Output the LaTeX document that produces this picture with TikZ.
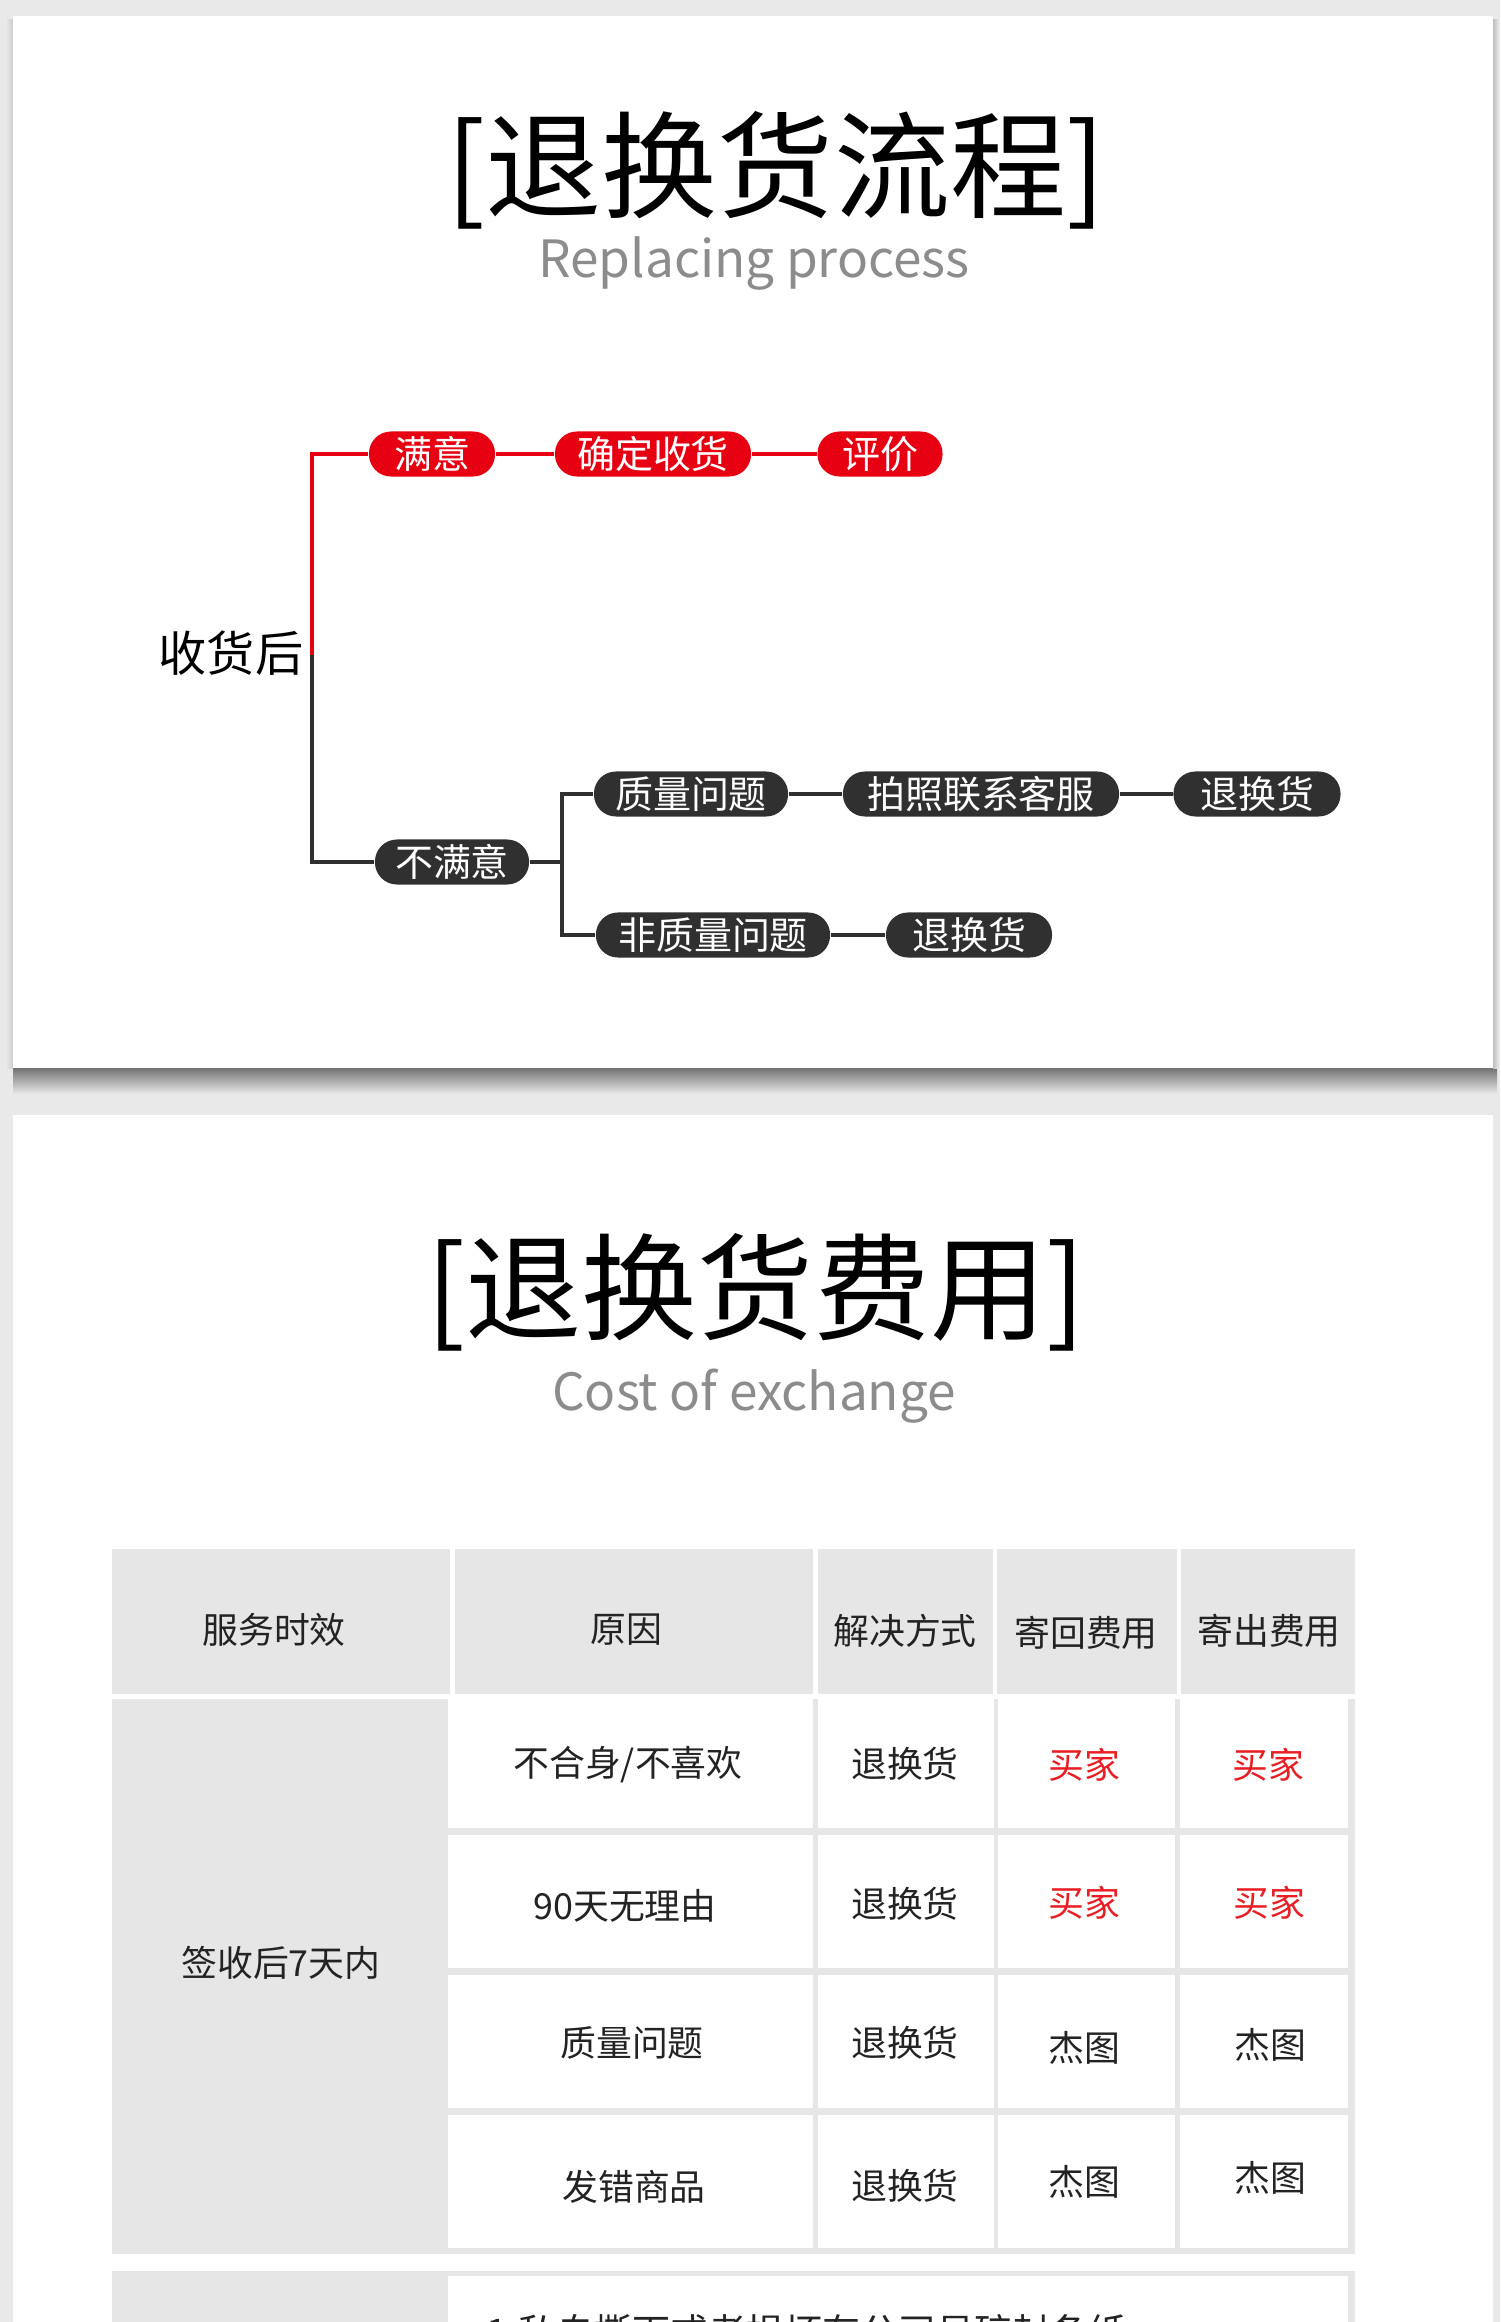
\documentclass[tikz,border=0pt]{standalone}
\usepackage{fontspec}
\setmainfont{Noto Sans CJK SC}
\definecolor{bggray}{RGB}{233,233,233}
\definecolor{cellgray}{RGB}{230,230,230}
\definecolor{mmred}{RGB}{230,0,18}
\definecolor{pilldark}{RGB}{48,48,48}
\definecolor{subgray}{RGB}{140,140,140}
\definecolor{textdark}{RGB}{35,35,35}
\definecolor{buyred}{RGB}{232,30,36}
\begin{document}
\begin{tikzpicture}[x=0.01cm,y=-0.01cm,
  titletext/.style={inner sep=0pt,text=black,font=\fontsize{33pt}{36pt}\selectfont},
  subtext/.style={inner sep=0pt,text=subgray,font=\fontsize{14.6pt}{17pt}\selectfont},
  roottext/.style={inner sep=0pt,text=black,font=\fontsize{13.7pt}{15pt}\selectfont},
  pillbase/.style={rounded corners=0.22cm,minimum height=0.45cm,inner sep=0pt,text=white,font=\fontsize{10.8pt}{12pt}\selectfont},
  redpill/.style={pillbase,fill=mmred},
  darkpill/.style={pillbase,fill=pilldark},
  redline/.style={draw=mmred,line width=1pt},
  darkline/.style={draw=pilldark,line width=1pt},
  celltext/.style={inner sep=0pt,text=textdark,font=\fontsize{10.2pt}{12pt}\selectfont},
  buytext/.style={celltext,text=buyred},
  cellfill/.style={fill=cellgray},
  whitecell/.style={fill=white}
]
\useasboundingbox (0,0) rectangle (1500,2322);
\clip (0,0) rectangle (1500,2322);
% background and panels
\fill[bggray] (0,0) rectangle (1500,2322);
\shade[top color=black!55,bottom color=bggray] (13,1068) rectangle (1497,1094);
\shade[left color=bggray,right color=black!20] (6,20) rectangle (13,1068);
\shade[left color=black!25,right color=bggray] (1493,20) rectangle (1499,1068);
\fill[white] (13,16) rectangle (1493,1068);
\fill[white] (13,1115) rectangle (1493,2330);

% titles
\node[titletext,anchor=base] (t1) at (776,210) {[退换货流程]};
\node[subtext,anchor=base] (s1) at (754,278) {Replacing process};
\node[titletext,anchor=base] (t2) at (756,1331) {[退换货费用]};
\node[subtext,anchor=base] (s2) at (754,1410) {Cost of exchange};

% mind map
\node[roottext] (root) at (231,653) {收货后};
\coordinate (tm) at (312,655);
\node[redpill,minimum width=1.26cm] (sat) at (432,454) {满意};
\node[redpill,minimum width=1.96cm] (conf) at (653,454) {确定收货};
\node[redpill,minimum width=1.25cm] (rate) at (880,454) {评价};
\node[darkpill,minimum width=1.54cm] (unsat) at (452,862) {不满意};
\coordinate (br) at (562,862);
\node[darkpill,minimum width=1.94cm] (qual) at (691,794) {质量问题};
\node[darkpill,minimum width=2.76cm] (photo) at (981,794) {拍照联系客服};
\node[darkpill,minimum width=1.67cm] (ret1) at (1257,794) {退换货};
\node[darkpill,minimum width=2.34cm] (nonq) at (713,935) {非质量问题};
\node[darkpill,minimum width=1.66cm] (ret2) at (969,935) {退换货};

\draw[darkline] (tm) |- (unsat.west);
\draw[redline] (tm) |- (sat.west);
\draw[redline] (sat) -- (conf);
\draw[redline] (conf) -- (rate);
\draw[darkline] (unsat) -- (br);
\draw[darkline] (br) |- (qual.west);
\draw[darkline] (br) |- (nonq.west);
\draw[darkline] (qual) -- (photo);
\draw[darkline] (photo) -- (ret1);
\draw[darkline] (nonq) -- (ret2);

% table header
\fill[cellfill] (112,1549) rectangle (450,1694);
\fill[cellfill] (455,1549) rectangle (813,1694);
\fill[cellfill] (818,1549) rectangle (993,1694);
\fill[cellfill] (997,1549) rectangle (1177,1694);
\fill[cellfill] (1181,1549) rectangle (1355,1694);
% table body
\fill[cellfill] (112,1699) rectangle (1355,2254);
\foreach \ya/\yb in {1695/1828,1835/1968,1975/2108,2115/2248}{
  \foreach \xa/\xb in {448/813,818/994,998/1175,1180/1348}{
    \fill[whitecell] (\xa,\ya) rectangle (\xb,\yb);
  }
}
\node[celltext] (h1) at (274,1630) {服务时效};
\node[celltext] (h2) at (626,1630) {原因};
\node[celltext] (h3) at (905,1631) {解决方式};
\node[celltext] (h4) at (1086,1633) {寄回费用};
\node[celltext] (h5) at (1269,1631) {寄出费用};

\node[celltext] (span) at (281,1963) {签收后7天内};

\node[celltext] (a1) at (628,1765) {不合身/不喜欢};
\node[celltext] (a2) at (905,1764) {退换货};
\node[buytext] (a3) at (1084,1765) {买家};
\node[buytext] (a4) at (1268,1765) {买家};

\node[celltext] (b1) at (625,1906) {90天无理由};
\node[celltext] (b2) at (905,1904) {退换货};
\node[buytext] (b3) at (1084,1903) {买家};
\node[buytext] (b4) at (1269,1903) {买家};

\node[celltext] (c1) at (632,2043) {质量问题};
\node[celltext] (c2) at (905,2043) {退换货};
\node[celltext] (c3) at (1084,2048) {杰图};
\node[celltext] (c4) at (1270,2045) {杰图};

\node[celltext] (d1) at (634,2187) {发错商品};
\node[celltext] (d2) at (905,2186) {退换货};
\node[celltext] (d3) at (1084,2182) {杰图};
\node[celltext] (d4) at (1270,2178) {杰图};

% notes row (cut off by the lower edge, as in the reference)
\fill[cellfill] (112,2271) rectangle (1355,2330);
\fill[whitecell] (448,2276) rectangle (1348,2330);
\node[celltext,anchor=base west,font=\fontsize{10.8pt}{12pt}\selectfont] (note) at (486,2346) {1.私自撕下或者损坏有公司易碎封条纸};
\end{tikzpicture}
\end{document}
